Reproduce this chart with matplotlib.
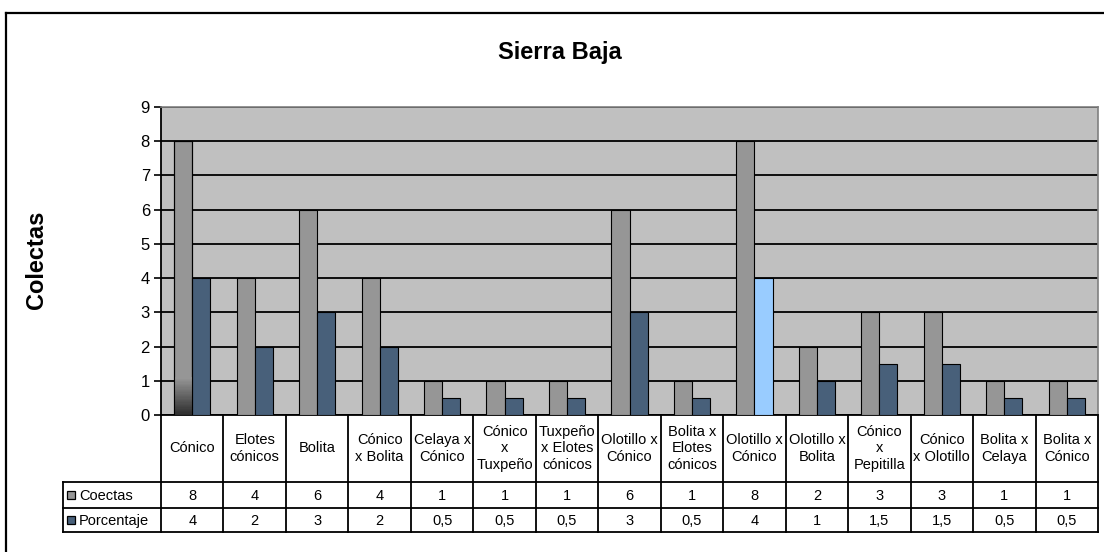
import matplotlib
matplotlib.use("Agg")
from matplotlib import pyplot as plt
from matplotlib.patches import Rectangle
import numpy as np

plt.rcParams['font.family'] = ['Liberation Sans', 'DejaVu Sans']

categories = ["Cónico", "Elotes\ncónicos", "Bolita", "Cónico\nx Bolita", "Celaya x\nCónico",
              "Cónico\nx\nTuxpeño", "Tuxpeño\nx Elotes\ncónicos", "Olotillo x\nCónico",
              "Bolita x\nElotes\ncónicos", "Olotillo x\nCónico", "Olotillo x\nBolita",
              "Cónico\nx\nPepitilla", "Cónico\nx Olotillo", "Bolita x\nCelaya", "Bolita x\nCónico"]
coectas = [8, 4, 6, 4, 1, 1, 1, 6, 1, 8, 2, 3, 3, 1, 1]
porcentaje = [4, 2, 3, 2, 0.5, 0.5, 0.5, 3, 0.5, 4, 1, 1.5, 1.5, 0.5, 0.5]
series_names = ["Coectas", "Porcentaje"]
highlight = 9  # the light blue bar

gray = "#969696"
blue = "#48607A"
light_blue = "#99CCFF"

W, H = 1104, 552
fig = plt.figure(figsize=(W / 100, H / 100), dpi=100)

# plot area in pixels
left, right, top, bottom = 161, 1098, 107, 415
ax = fig.add_axes([left / W, 1 - bottom / H, (right - left) / W, (bottom - top) / H])
ax.set_facecolor("#C0C0C0")

n = len(categories)
x = np.arange(n) + 0.5
bw = 0.29
gbars = ax.bar(x - bw / 2, coectas, bw, color=gray, edgecolor="black", linewidth=0.8, zorder=3)
bcols = [light_blue if i == highlight else blue for i in range(n)]
ax.bar(x + bw / 2, porcentaje, bw, color=bcols, edgecolor="black", linewidth=0.8, zorder=3)

# dark shading at the foot of the first bar
b0 = gbars[0]
c_top = np.array(matplotlib.colors.to_rgb(gray))
c_bot = np.array(matplotlib.colors.to_rgb("#2e2e2e"))
steps = 30
h_grad = 1.1
for k in range(steps):
    t = k / (steps - 1)
    col = c_bot * (1 - t) + c_top * t
    ax.add_patch(Rectangle((b0.get_x(), k * h_grad / steps), b0.get_width(), h_grad / steps,
                           facecolor=col, edgecolor="none", zorder=3.2))
ax.add_patch(Rectangle((b0.get_x(), 0), b0.get_width(), b0.get_height(),
                       facecolor="none", edgecolor="black", linewidth=0.8, zorder=3.4))

ax.set_xlim(0, n)
ax.set_ylim(0, 9)
ax.set_yticks(range(10))
ax.tick_params(axis="y", labelsize=12, length=5, width=1.2, direction="out", pad=3)
ax.set_xticks([])
ax.grid(axis="y", color="black", linewidth=1.3, zorder=1)
ax.set_axisbelow(True)
for s in ["top", "right"]:
    ax.spines[s].set_color("#808080")
    ax.spines[s].set_linewidth(1.2)
for s in ["left", "bottom"]:
    ax.spines[s].set_color("black")
    ax.spines[s].set_linewidth(1.3)

fig.text(560 / W, 1 - 52 / H, "Sierra Baja", ha="center", va="center",
         fontsize=17, fontweight="bold")
fig.text(37 / W, 1 - 260 / H, "Colectas", ha="center", va="center",
         rotation=90, fontsize=17, fontweight="bold")

# overlay in pixel coordinates for the data table and outer frame
ov = fig.add_axes([0, 0, 1, 1], zorder=-1)
ov.set_xlim(0, W)
ov.set_ylim(H, 0)
ov.axis("off")
ov.patch.set_alpha(0)

# outer frame (cropped at right and bottom)
ov.plot([6, 6], [13, H], color="black", lw=1.6)
ov.plot([6, W], [13, 13], color="black", lw=1.6)

cell = (right - left) / n
r1, r2, r3 = 482, 508, 532
lab_left = 63
lw = 1.3
for y in (r1, r2, r3):
    ov.plot([lab_left, right], [y, y], color="black", lw=lw)
ov.plot([lab_left, lab_left], [r1, r3], color="black", lw=lw)
for i in range(n + 1):
    xp = left + i * cell
    ov.plot([xp, xp], [bottom, r3], color="black", lw=lw)

fs = 10.5
for i in range(n):
    xc = left + (i + 0.5) * cell
    ov.text(xc, (bottom + r1) / 2, categories[i], ha="center", va="center",
            fontsize=fs, linespacing=1.2)
    for val, yc in ((coectas[i], (r1 + r2) / 2), (porcentaje[i], (r2 + r3) / 2)):
        s = ("%g" % val).replace(".", ",")
        ov.text(xc, yc + 1, s, ha="center", va="center", fontsize=fs)

for name, col, yc in ((series_names[0], gray, (r1 + r2) / 2),
                      (series_names[1], blue, (r2 + r3) / 2)):
    ov.add_patch(Rectangle((67, yc - 4), 8, 8, facecolor=col, edgecolor="black", lw=0.9))
    ov.text(79, yc + 1, name, ha="left", va="center", fontsize=fs)

plt.savefig("out.png", dpi=100)
